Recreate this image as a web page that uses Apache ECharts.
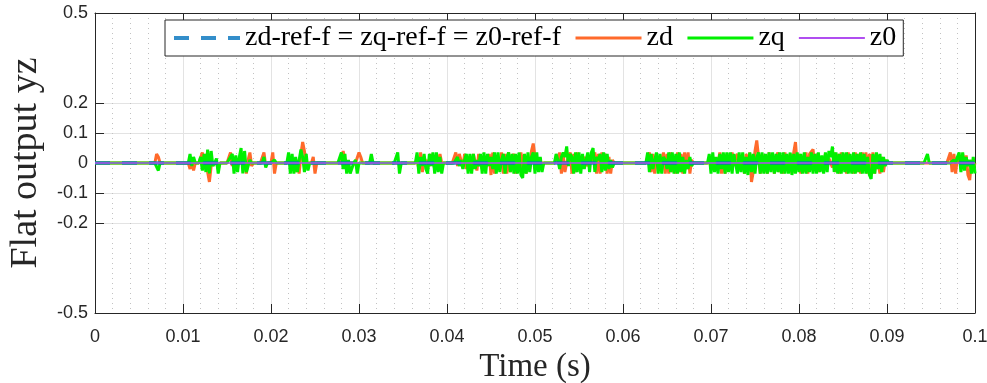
<!DOCTYPE html>
<html>
<head>
<meta charset="utf-8">
<script src="https://cdn.jsdelivr.net/npm/echarts@6/dist/echarts.min.js"></script>
<style>
  html, body { margin: 0; padding: 0; background: #fff; }
  #chart { width: 987px; height: 383px; }
</style>
</head>
<body>
<div id="chart"></div>
<script>
// Sampling of the simulated flat outputs (s)
const dt = 0.0002;
const tEnd = 0.1;

// Axis ticks
const xTicks = [0, 0.01, 0.02, 0.03, 0.04, 0.05, 0.06, 0.07, 0.08, 0.09, 0.1];
const yTicks = [-0.5, -0.2, -0.1, 0, 0.1, 0.2, 0.5];

// Reference trajectories (all identical, flat at zero) and z0
const refTimes = [0, 0.1];
const refValues = [0, 0];
const z0Values = [0, 0];

// Start time of each switching burst; outside the bursts zd and zq stay at 0
const burstStart = [0.0068, 0.0106, 0.0118, 0.015, 0.019, 0.0218, 0.0278, 0.0312,
  0.0342, 0.0364, 0.0408, 0.0522, 0.0626, 0.0696, 0.0944, 0.0968];

// zd samples inside each burst (one value per dt)
const zdBurst = [
  [0, 0.03, 0.02, 0],
  [0, -0.02, 0.005, -0.025, 0],
  [0, 0, 0.035, -0.02, 0.03, -0.03, -0.063, -0.01, 0, 0, 0, -0.02, 0],
  [0, 0, 0.035, -0.01, 0.02, -0.02, 0, 0, 0, 0, 0, -0.035, 0.01, 0.035, -0.01, 0, 0],
  [0, 0.035, -0.01, 0, 0, 0, 0.035, -0.035, 0],
  [0, 0, 0.01, -0.01, 0, -0.03, 0.01, -0.035, 0.03, 0.07, 0.04, -0.01, 0, 0, 0, 0.02, -0.035, 0, 0],
  [0, 0, 0.04, 0.01, -0.02, 0, 0, 0, 0, 0, 0, 0.035, 0.02, 0, 0, 0],
  [0, 0, 0],
  [0, 0, 0, 0],
  [0, 0.01, -0.02, 0.035, -0.03, 0.02, 0, 0.01, -0.01, 0.03, 0.035, -0.02, 0.03, -0.015, 0.03, 0, 0, 0, 0],
  [0, 0.035, -0.01, 0.03, 0.035, -0.015, 0.03, -0.02, 0.01, 0.02,
   -0.02, 0.03, 0.025, -0.025, 0.03, 0, -0.02, 0.01, 0.02, -0.01,
   0.03, -0.04, 0.035, -0.035, 0.01, 0.02, -0.01, 0.035, -0.035, 0.03,
   -0.035, 0.035, -0.03, 0.02, 0.03, -0.035, 0.025, -0.03, 0.035, -0.02,
   0.03, -0.035, 0.02, -0.02, 0.04, 0.065, 0.02, -0.015, 0.01, 0, 0, 0],
  [0, 0, 0.01, 0.035, -0.035, 0.03, -0.03, 0, 0.02, 0.035,
   -0.035, 0.03, -0.03, 0.035, -0.02, 0, 0.01, 0.02, 0, -0.01,
   0.01, 0, 0.02, 0.035, -0.035, 0.03, -0.035, 0.035, -0.02, 0.03,
   -0.035, 0.02, -0.035, 0.01, 0, 0],
  [0, 0, 0.035, -0.03, 0.03, -0.035, 0.02, 0, 0, 0.01, 0.035, -0.035, 0.03, -0.035,
   0.035, -0.03, 0.02, -0.035, 0.035, -0.03, 0.03, -0.035, 0.035, -0.02, 0.035, -0.035, 0.01, 0],
  [0, 0, 0, 0.02, -0.01, 0.01, 0, 0.035, -0.035, 0.03,
   -0.035, 0.03, 0.01, -0.02, 0.035, -0.01, 0.02, 0.03, -0.02, 0.01,
   0.02, -0.035, 0.03, -0.02, 0.035, -0.063, -0.03, 0.04, 0.075, 0.02,
   -0.035, 0.03, -0.03, 0.02, -0.035, 0.035, -0.02, 0.03, -0.035, 0.02,
   0.035, -0.03, 0.02, -0.035, 0.035, -0.02, 0.01, 0.03, -0.035, 0.035,
   0.07, -0.01, 0.03, -0.035, 0.02, -0.03, 0.035, -0.035, 0.03, 0.035,
   0.045, -0.02, 0.03, -0.03, 0.02, 0.01, -0.01, 0.03, -0.02, 0.015,
   0.02, -0.015, 0.035, -0.03, 0.03, -0.035, 0.035, -0.02, 0.03, -0.035,
   0.035, -0.03, 0.02, -0.035, 0.035, -0.03, 0.03, -0.035, 0.035, -0.02,
   0.035, -0.035, 0.03, -0.02, 0.035, -0.035, 0.03, 0.035, -0.035, 0.02,
   -0.03, 0.01, 0, 0],
  [0, 0, 0],
  [0, 0, 0.035, -0.03, 0.03, -0.035, 0.02, 0, 0.01, 0.03, -0.02, 0.025, -0.04, -0.057, 0.01, -0.02, 0]
];

// zq samples inside each burst (one value per dt)
const zqBurst = [
  [0, 0, -0.025, 0],
  [0, 0.03, -0.01, 0.02, 0],
  [0, 0.02, -0.025, 0.03, -0.03, 0.045, -0.035, 0.04, -0.01, 0, 0.015, -0.035, 0],
  [0, 0, 0.02, 0.03, -0.035, 0.025, -0.03, 0.02, 0.05, -0.035, 0.04, -0.03, -0.035, 0.01, 0, 0, 0],
  [0, 0.02, -0.015, 0, 0, 0, 0, 0.01, 0],
  [0, 0.035, -0.035, 0.03, -0.035, 0.02, -0.03, 0.01, 0.045, 0.02, -0.03, 0.03, -0.025, 0, 0, 0, 0, 0, 0],
  [0, 0.035, -0.02, 0.03, -0.035, 0.01, -0.035, -0.03, 0, 0.01, -0.035, 0, 0, 0, 0, 0],
  [0, 0.03, 0],
  [0, 0.035, -0.035, 0],
  [0, 0.035, -0.035, 0.02, -0.01, 0.03, -0.02, -0.035, 0.03, -0.01, 0.035, -0.035, 0.035, -0.03, 0.02, -0.035, 0, 0, 0],
  [0, 0, 0.02, -0.01, 0.01, -0.02, 0.01, 0.03, -0.035, 0.03,
   -0.035, 0.03, -0.02, 0.01, -0.01, 0.03, -0.035, 0.035, -0.035, 0.03,
   -0.01, 0.02, -0.02, 0.035, -0.035, 0.035, -0.03, 0.01, 0.03, -0.035,
   0.02, 0.035, -0.03, 0.03, -0.035, 0.03, -0.035, 0.035, -0.04, -0.05,
   0.03, -0.035, 0.035, -0.03, 0.02, 0.035, -0.035, 0.035, -0.03, 0.02, -0.03, 0],
  [0, 0.03, 0.01, -0.02, 0.02, 0.035, 0.02, 0.055, -0.01, 0.03,
   0.02, -0.035, 0.035, -0.03, 0.035, -0.035, 0.03, -0.02, 0.01, 0.035,
   -0.03, 0.035, 0.05, -0.03, 0.02, 0.01, 0.03, -0.03, 0.035, -0.025,
   0.03, -0.02, 0.01, -0.015, 0, 0],
  [0, 0.035, -0.03, 0.03, -0.02, 0.01, 0.035, -0.035, 0.03, -0.035, 0.02, 0.01, -0.02, 0.035,
   -0.03, 0.035, -0.035, 0.03, -0.035, 0.035, -0.03, 0.02, -0.035, 0.01, -0.02, 0.02, -0.01, 0],
  [0, 0.03, -0.035, 0.035, -0.03, 0.02, -0.035, 0.03, -0.02, 0.035,
   -0.035, 0.035, -0.03, 0.035, -0.035, 0.03, 0.035, -0.035, 0.035, -0.03,
   0.035, -0.035, 0.02, -0.04, 0.035, -0.03, 0.03, -0.035, 0.02, 0.035,
   -0.035, 0.035, -0.035, 0.03, -0.035, 0.035, -0.03, 0.035, -0.035, 0.03,
   -0.03, 0.035, -0.035, 0.035, -0.035, 0.03, -0.035, 0.035, -0.04, 0.03,
   -0.035, 0.035, -0.03, 0.03, -0.035, 0.035, -0.035, 0.02, -0.03, 0.035,
   -0.035, 0.03, -0.035, 0.035, -0.03, 0.025, -0.035, 0.035, -0.03, 0.04,
   0.02, 0.055, -0.03, 0.035, -0.035, 0.03, -0.035, 0.035, -0.03, 0.035,
   -0.035, 0.03, -0.035, 0.035, -0.035, 0.03, -0.03, 0.035, -0.035, 0.03,
   -0.035, 0.02, -0.04, -0.053, 0.03, -0.035, 0.035, -0.02, 0.03, -0.03,
   0.02, -0.01, 0.01, 0],
  [0, 0.03, 0],
  [0, 0, 0, 0, 0.01, 0, 0.02, 0.035, -0.03, 0.035, -0.025, 0.02, -0.01, 0.01, -0.035, 0.02, -0.035]
];

// Expand the burst samples onto the full time grid
function buildSeries(bursts) {
  const n = Math.round(tEnd / dt) + 1;
  const v = new Array(n).fill(0);
  burstStart.forEach((t0, k) => {
    const i0 = Math.round(t0 / dt);
    bursts[k].forEach((val, j) => { if (i0 + j < n) v[i0 + j] = val; });
  });
  return v.map((val, i) => [+(i * dt).toFixed(4), val]);
}

const zdData = buildSeries(zdBurst);
const zqData = buildSeries(zqBurst);
const refData = refTimes.map((t, i) => [t, refValues[i]]);
const z0Data = refTimes.map((t, i) => [t, z0Values[i]]);

const axisColor = '#262626';
const gridColor = '#e3e3e3';
const clear = 'rgba(0,0,0,0)';
const yGridColors = [-0.5, -0.4, -0.3, -0.2, -0.1, 0, 0.1, 0.2, 0.3, 0.4, 0.5]
  .map(v => (Math.abs(v) <= 0.2 + 1e-9 && yTicks.includes(v)) ? gridColor : clear);

const refName = 'zd-ref-f = zq-ref-f = z0-ref-f';

const chart = echarts.init(document.getElementById('chart'), null, { renderer: 'canvas' });

chart.setOption({
  animation: false,
  backgroundColor: '#ffffff',
  grid: { left: 95, right: 12, top: 13, bottom: 70, outerBoundsMode: 'none', containLabel: false },
  legend: {
    left: 165,
    top: 20,
    padding: [4, 7, 4, 7],
    itemGap: 13,
    itemWidth: 66,
    itemHeight: 14,
    borderColor: axisColor,
    borderWidth: 1,
    borderRadius: 0,
    backgroundColor: '#ffffff',
    itemStyle: { color: clear, borderColor: clear, borderWidth: 0, opacity: 0 },
    textStyle: { fontFamily: 'Liberation Serif', fontSize: 28, color: '#000' },
    data: [
      { name: refName, lineStyle: { width: 4 } },
      { name: 'zd', lineStyle: { width: 3 } },
      { name: 'zq', lineStyle: { width: 3 } },
      { name: 'z0', lineStyle: { width: 2 } }
    ]
  },
  xAxis: [
    {
      type: 'value', min: 0, max: tEnd, interval: 0.01, position: 'bottom',
      name: 'Time (s)', nameLocation: 'middle', nameGap: 34,
      nameTextStyle: { fontFamily: 'Liberation Serif', fontSize: 33, color: axisColor },
      axisLine: { show: true, onZero: false, lineStyle: { color: axisColor, width: 1 } },
      axisTick: { show: true, inside: true, length: 9, lineStyle: { color: axisColor } },
      axisLabel: {
        color: axisColor, fontFamily: 'Liberation Sans', fontSize: 18, margin: 15,
        customValues: xTicks,
        formatter: v => String(+v.toFixed(2))
      },
      splitLine: { show: true, lineStyle: { color: gridColor, width: 1 } },
      minorTick: { show: false, splitNumber: 5 },
      minorSplitLine: { show: true, lineStyle: { color: '#c2c2c2', width: 1, type: [1, 4] } }
    },
    {
      type: 'value', min: 0, max: tEnd, interval: 0.01, position: 'top',
      axisLine: { show: true, onZero: false, lineStyle: { color: axisColor, width: 1 } },
      axisTick: { show: true, inside: true, length: 9, lineStyle: { color: axisColor } },
      axisLabel: { show: false },
      splitLine: { show: false }
    }
  ],
  yAxis: [
    {
      type: 'value', min: -0.5, max: 0.5, interval: 0.1, position: 'left',
      name: 'Flat output yz', nameLocation: 'middle', nameGap: 50,
      nameTextStyle: { fontFamily: 'Liberation Serif', fontSize: 38, color: axisColor },
      axisLine: { show: true, onZero: false, lineStyle: { color: axisColor, width: 1 } },
      axisTick: { show: true, inside: true, length: 9, customValues: yTicks, lineStyle: { color: axisColor } },
      axisLabel: {
        color: axisColor, fontFamily: 'Liberation Sans', fontSize: 18, margin: 7,
        padding: [4, 0, 0, 0],
        customValues: yTicks,
        formatter: v => String(+v.toFixed(1))
      },
      splitLine: { show: false }
    },
    {
      type: 'value', min: -0.5, max: 0.5, interval: 0.1, position: 'right',
      axisLine: { show: true, onZero: false, lineStyle: { color: axisColor, width: 1 } },
      axisTick: { show: true, inside: true, length: 9, customValues: yTicks, lineStyle: { color: axisColor } },
      axisLabel: { show: false },
      splitLine: { show: false }
    },
    {
      // horizontal grid lines at the labelled inner ticks
      type: 'value', min: -0.5, max: 0.5, interval: 0.1, position: 'left',
      axisLine: { show: false }, axisTick: { show: false }, axisLabel: { show: false },
      splitLine: { show: true, lineStyle: { color: yGridColors, width: 1 } }
    }
  ],
  series: [
    {
      name: refName, type: 'line', data: refData,
      symbol: 'none', z: 4, silent: true,
      lineStyle: { color: '#0072BD', width: 3.5, type: [15, 12], opacity: 0.8 },
      itemStyle: { color: '#0072BD' }
    },
    {
      name: 'zd', type: 'line', data: zdData, symbol: 'none', z: 2, silent: true,
      lineStyle: { color: '#FF6A2B', width: 3 }, itemStyle: { color: '#FF6A2B' }
    },
    {
      name: 'zq', type: 'line', data: zqData, symbol: 'none', z: 3, silent: true,
      lineStyle: { color: '#00F000', width: 3 }, itemStyle: { color: '#00F000' }
    },
    {
      name: 'z0', type: 'line', data: z0Data, symbol: 'none', z: 5, silent: true,
      lineStyle: { color: '#B04EF0', width: 1.5 }, itemStyle: { color: '#B04EF0' }
    }
  ]
});
</script>
</body>
</html>
